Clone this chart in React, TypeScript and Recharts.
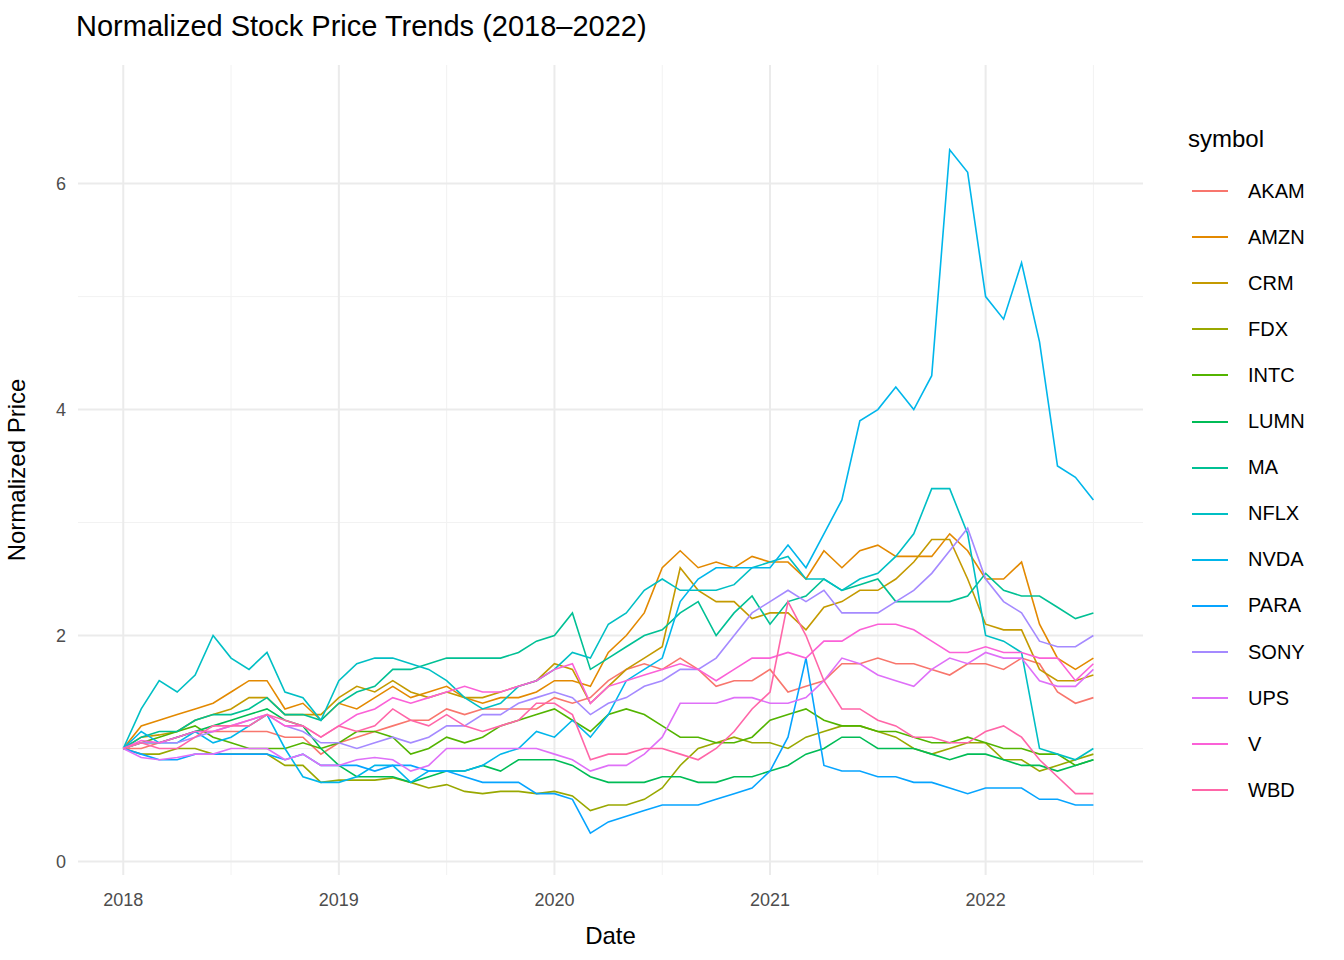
import { LineChart, Line, XAxis, YAxis, ReferenceLine } from 'recharts';

// monthly points, Jan 2018 .. Jul 2022
const symbols = ['AKAM', 'AMZN', 'CRM', 'FDX', 'INTC', 'LUMN', 'MA', 'NFLX', 'NVDA', 'PARA', 'SONY', 'UPS', 'V', 'WBD'];
const colors = ['#F8766D', '#E38900', '#C49A00', '#99A800', '#53B400', '#00BC56', '#00C094', '#00BFC4', '#00B6EB', '#06A4FF', '#A58AFF', '#DF70F8', '#FB61D7', '#FF66A8'];

const AKAM = [1.0,1.0,1.05,1.1,1.15,1.15,1.15,1.15,1.15,1.1,1.1,0.95, 1.05,1.1,1.15,1.2,1.25,1.25,1.35,1.3,1.35,1.35,1.35,1.35, 1.45,1.4,1.45,1.6,1.7,1.75,1.7,1.8,1.7,1.55,1.6,1.6, 1.7,1.5,1.55,1.6,1.75,1.75,1.8,1.75,1.75,1.7,1.65,1.75, 1.75,1.7,1.8,1.75,1.5,1.4,1.45];
const AMZN = [1.0,1.2,1.25,1.3,1.35,1.4,1.5,1.6,1.6,1.35,1.4,1.25, 1.4,1.35,1.45,1.55,1.45,1.5,1.55,1.45,1.4,1.45,1.45,1.5, 1.6,1.6,1.55,1.85,2.0,2.2,2.6,2.75,2.6,2.65,2.6,2.7, 2.65,2.65,2.5,2.75,2.6,2.75,2.8,2.7,2.7,2.7,2.9,2.75, 2.5,2.5,2.65,2.1,1.8,1.7,1.8];
const CRM = [1.0,1.1,1.12,1.15,1.25,1.3,1.35,1.45,1.45,1.3,1.3,1.3, 1.45,1.55,1.5,1.6,1.5,1.45,1.5,1.45,1.45,1.5,1.55,1.6, 1.75,1.7,1.4,1.55,1.7,1.8,1.9,2.6,2.4,2.3,2.3,2.15, 2.2,2.2,2.05,2.25,2.3,2.4,2.4,2.5,2.65,2.85,2.85,2.5, 2.1,2.05,2.05,1.7,1.6,1.6,1.65];
const FDX = [1.0,0.95,0.95,1.0,1.0,0.95,0.95,0.95,0.95,0.85,0.85,0.7, 0.72,0.72,0.72,0.74,0.7,0.65,0.68,0.62,0.6,0.62,0.62,0.6, 0.62,0.58,0.45,0.5,0.5,0.55,0.65,0.85,1.0,1.05,1.1,1.05, 1.05,1.0,1.1,1.15,1.2,1.2,1.15,1.1,1.0,0.95,1.0,1.05, 1.05,0.9,0.9,0.8,0.85,0.9,0.95];
const INTC = [1.0,1.05,1.1,1.15,1.2,1.1,1.05,1.0,1.0,1.0,1.05,1.0, 1.05,1.15,1.15,1.1,0.95,1.0,1.1,1.05,1.1,1.2,1.25,1.3, 1.35,1.25,1.15,1.3,1.35,1.3,1.2,1.1,1.1,1.05,1.05,1.1, 1.25,1.3,1.35,1.25,1.2,1.2,1.15,1.15,1.1,1.05,1.05,1.1, 1.05,1.0,1.0,0.95,0.95,0.85,0.9];
const LUMN = [1.0,1.05,1.05,1.1,1.15,1.2,1.25,1.3,1.35,1.25,1.2,1.0, 0.85,0.75,0.75,0.75,0.7,0.75,0.8,0.8,0.85,0.8,0.9,0.9, 0.9,0.85,0.75,0.7,0.7,0.7,0.75,0.75,0.7,0.7,0.75,0.75, 0.8,0.85,0.95,1.0,1.1,1.1,1.0,1.0,1.0,0.95,0.9,0.95, 0.95,0.9,0.85,0.85,0.8,0.85,0.9];
const MA = [1.0,1.1,1.15,1.15,1.25,1.3,1.3,1.35,1.45,1.3,1.3,1.25, 1.4,1.5,1.55,1.7,1.7,1.75,1.8,1.8,1.8,1.8,1.85,1.95, 2.0,2.2,1.7,1.8,1.9,2.0,2.05,2.2,2.3,2.0,2.2,2.35, 2.1,2.3,2.35,2.5,2.4,2.45,2.5,2.3,2.3,2.3,2.3,2.35, 2.55,2.4,2.35,2.35,2.25,2.15,2.2];
const NFLX = [1.0,1.35,1.6,1.5,1.65,2.0,1.8,1.7,1.85,1.5,1.45,1.25, 1.6,1.75,1.8,1.8,1.75,1.7,1.6,1.45,1.35,1.4,1.55,1.6, 1.7,1.85,1.8,2.1,2.2,2.4,2.5,2.4,2.4,2.4,2.45,2.6, 2.65,2.7,2.5,2.5,2.4,2.5,2.55,2.7,2.9,3.3,3.3,2.9, 2.0,1.95,1.85,1.0,0.95,0.9,1.0];
const NVDA = [1.0,1.15,1.05,1.05,1.15,1.05,1.1,1.2,1.3,1.0,0.75,0.7, 0.7,0.75,0.85,0.85,0.7,0.8,0.8,0.8,0.85,0.95,1.0,1.15, 1.1,1.25,1.1,1.3,1.6,1.7,1.8,2.3,2.5,2.6,2.6,2.6, 2.6,2.8,2.6,2.9,3.2,3.9,4.0,4.2,4.0,4.3,6.3,6.1, 5.0,4.8,5.3,4.6,3.5,3.4,3.2];
const PARA = [1.0,0.95,0.9,0.9,0.95,0.95,0.95,0.95,0.95,0.9,0.95,0.85, 0.85,0.85,0.8,0.85,0.85,0.8,0.8,0.75,0.7,0.7,0.7,0.6, 0.6,0.55,0.25,0.35,0.4,0.45,0.5,0.5,0.5,0.55,0.6,0.65, 0.8,1.1,1.8,0.85,0.8,0.8,0.75,0.75,0.7,0.7,0.65,0.6, 0.65,0.65,0.65,0.55,0.55,0.5,0.5];
const SONY = [1.0,1.05,1.05,1.05,1.1,1.15,1.2,1.25,1.3,1.2,1.15,1.05, 1.05,1.0,1.05,1.1,1.05,1.1,1.2,1.2,1.3,1.3,1.4,1.45, 1.5,1.45,1.3,1.4,1.45,1.55,1.6,1.7,1.7,1.8,2.0,2.2, 2.3,2.4,2.3,2.4,2.2,2.2,2.2,2.3,2.4,2.55,2.75,2.95, 2.5,2.3,2.2,1.95,1.9,1.9,2.0];
const UPS = [1.0,0.92,0.9,0.92,0.95,0.95,1.0,1.0,1.0,0.9,0.95,0.85, 0.85,0.9,0.92,0.9,0.8,0.85,1.0,1.0,1.0,1.0,1.0,1.0, 0.95,0.9,0.8,0.85,0.85,0.95,1.1,1.4,1.4,1.4,1.45,1.45, 1.4,1.4,1.45,1.6,1.8,1.75,1.65,1.6,1.55,1.7,1.8,1.75, 1.85,1.8,1.8,1.6,1.55,1.55,1.7];
const V = [1.0,1.07,1.05,1.1,1.15,1.15,1.2,1.25,1.3,1.2,1.2,1.1, 1.2,1.3,1.35,1.45,1.4,1.45,1.5,1.55,1.5,1.5,1.55,1.6, 1.7,1.75,1.4,1.55,1.6,1.65,1.7,1.75,1.7,1.6,1.7,1.8, 1.8,1.85,1.8,1.95,1.95,2.05,2.1,2.1,2.05,1.95,1.85,1.85, 1.9,1.85,1.85,1.8,1.8,1.6,1.75];
const WBD = [1.0,1.05,1.0,1.0,1.1,1.2,1.2,1.2,1.3,1.25,1.2,1.1, 1.2,1.15,1.2,1.35,1.25,1.2,1.3,1.2,1.15,1.2,1.25,1.4, 1.4,1.3,0.9,0.95,0.95,1.0,1.0,0.95,0.9,1.0,1.15,1.35, 1.5,2.3,2.0,1.6,1.35,1.35,1.25,1.2,1.1,1.1,1.05,1.05, 1.15,1.2,1.1,0.9,0.75,0.6,0.6];

const series = [AKAM, AMZN, CRM, FDX, INTC, LUMN, MA, NFLX, NVDA, PARA, SONY, UPS, V, WBD];

const xMajor = [2018, 2019, 2020, 2021, 2022];
const xMinor = [2018.5, 2019.5, 2020.5, 2021.5, 2022.5];
const yMajor = [0, 2, 4, 6];
const yMinor = [1, 3, 5];

const data = AKAM.map((_, i) => {
  const row: any = { t: 2018 + i / 12 };
  symbols.forEach((s, k) => { row[s] = series[k][i]; });
  return row;
});

const font = 'Liberation Sans, Arial, sans-serif';

export default function App() {
  return (
    <div style={{ position: 'absolute', left: 0, top: 0, width: 1344, height: 960, background: '#fff', fontFamily: font }}>
      <div style={{ position: 'absolute', left: 76, top: 10, fontSize: 29, color: '#000' }}>
        Normalized Stock Price Trends (2018–2022)
      </div>
      <LineChart width={1344} height={960} data={data} margin={{ top: 65, right: 201, left: 0, bottom: 0 }}>
        {xMinor.map(v => <ReferenceLine key={'xm' + v} x={v} stroke="#f2f2f2" strokeWidth={1} />)}
        {yMinor.map(v => <ReferenceLine key={'ym' + v} y={v} stroke="#f2f2f2" strokeWidth={1} />)}
        {xMajor.map(v => <ReferenceLine key={'x' + v} x={v} stroke="#ebebeb" strokeWidth={2} />)}
        {yMajor.map(v => <ReferenceLine key={'y' + v} y={v} stroke="#ebebeb" strokeWidth={2} />)}
        <XAxis
          dataKey="t"
          type="number"
          domain={[2017.79, 2022.73]}
          ticks={xMajor}
          tickFormatter={(v) => String(Math.round(v))}
          axisLine={false}
          tickLine={false}
          height={85}
          tick={{ fontSize: 18, fill: '#4d4d4d', fontFamily: font }}
          tickMargin={12}
          label={{ value: 'Date', position: 'insideBottom', offset: 16, fontSize: 24, fill: '#000', fontFamily: font }}
        />
        <YAxis
          type="number"
          domain={[-0.12, 7.05]}
          ticks={yMajor}
          axisLine={false}
          tickLine={false}
          width={78}
          tickMargin={6}
          tick={{ fontSize: 18, fill: '#4d4d4d', fontFamily: font }}
          label={{ value: 'Normalized Price', angle: -90, position: 'insideLeft', offset: 16, fontSize: 24, fill: '#000', fontFamily: font, style: { textAnchor: 'middle' } }}
        />
        {symbols.map((s, k) => (
          <Line key={s} dataKey={s} stroke={colors[k]} strokeWidth={1.6} dot={false} isAnimationActive={false} type="linear" />
        ))}
      </LineChart>
      <div style={{ position: 'absolute', left: 1188, top: 125, fontSize: 24, color: '#000' }}>symbol</div>
      {symbols.map((s, k) => (
        <div key={s} style={{ position: 'absolute', left: 1192, top: 179 + k * 46.1, height: 24, display: 'flex', alignItems: 'center' }}>
          <div style={{ width: 36, height: 2, background: colors[k] }} />
          <div style={{ marginLeft: 20, fontSize: 20, color: '#000' }}>{s}</div>
        </div>
      ))}
    </div>
  );
}
